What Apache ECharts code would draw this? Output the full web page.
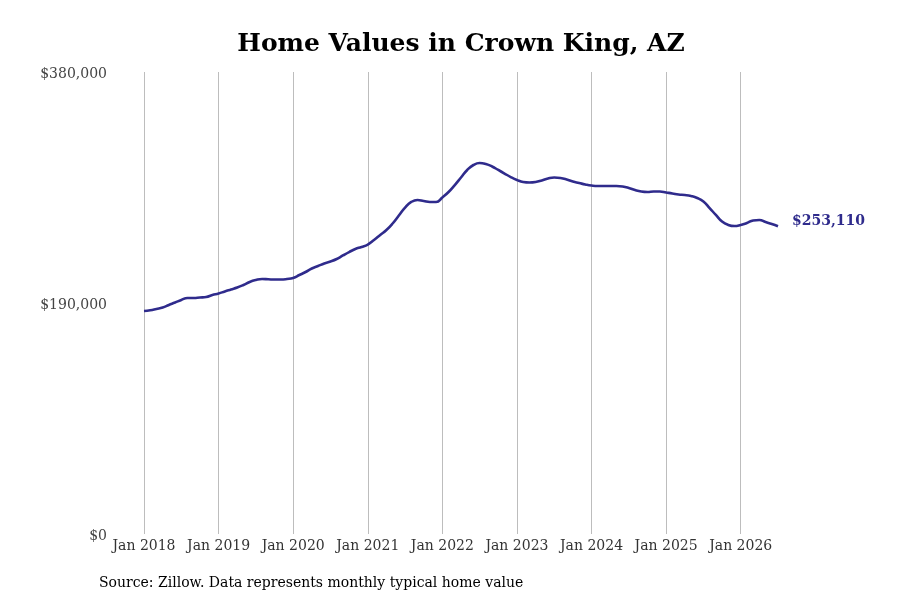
<!DOCTYPE html>
<html>
<head>
<meta charset="utf-8">
<script src="https://cdn.jsdelivr.net/npm/echarts@6/dist/echarts.min.js"></script>
<style>
  html, body { margin: 0; padding: 0; background: #fff; }
  #chart { width: 900px; height: 600px; }
</style>
</head>
<body>
<div id="chart"></div>
<script>
// Monthly typical home value, Jan 2018 onward
var startYear = 2018;
var homeValues = [
  183400, 184000, 185100, 186300, 188400, 190400, 192500, 194100, 194100, 194500, 194900, 196600,
  197800, 199500, 201100, 202700, 204800, 207300, 208900, 209700, 209500, 209300, 209300, 209700,
  210600, 213000, 215500, 218400, 220400, 222500, 224100, 226200, 229100, 231900, 234400, 236100,
  238100, 241800, 245900, 250000, 255400, 262000, 268500, 273100, 274700, 273900, 273100, 273100,
  276800, 281300, 287000, 293200, 299400, 303500, 305100, 304300, 302300, 299400, 296500, 293600,
  291200, 289500, 289100, 289500, 290800, 292400, 293200, 292800, 291600, 289900, 288700, 287500,
  286600, 286200, 286200, 286200, 286200, 285800, 284600, 282900, 281700, 281300, 281700, 281700,
  280900, 280100, 279200, 278800, 278000, 276400, 273500, 268100, 262400, 257000, 254200, 253300,
  254200, 255800, 257900, 258300, 256600, 255000, 253110
];
var monthNames = ['Jan', 'Feb', 'Mar', 'Apr', 'May', 'Jun', 'Jul', 'Aug', 'Sep', 'Oct', 'Nov', 'Dec'];
var yTicks = [0, 190000, 380000];

var months = homeValues.map(function (v, i) {
  return monthNames[i % 12] + ' ' + (startYear + Math.floor(i / 12));
});

function money(v) {
  return '$' + Math.round(v).toLocaleString('en-US');
}

var lineColor = '#2f2b8c';
var serif = 'DejaVu Serif';

var myChart = echarts.init(document.getElementById('chart'));

var option = {
  backgroundColor: '#fff',
  animation: false,
  title: {
    text: 'Home Values in Crown King, AZ',
    left: 456,
    textAlign: 'center',
    top: 27,
    textStyle: { fontFamily: serif, fontSize: 25, fontWeight: 'bold', color: '#000' }
  },
  grid: { left: 144, right: 122, top: 72, bottom: 66 },
  xAxis: {
    type: 'category',
    data: months,
    boundaryGap: false,
    axisLine: { show: false },
    axisTick: { show: false },
    axisLabel: {
      interval: 11,
      margin: 5,
      fontFamily: serif,
      fontSize: 14,
      color: '#333'
    },
    splitLine: {
      show: true,
      interval: 11,
      lineStyle: { color: '#bdbdbd', width: 1 }
    }
  },
  yAxis: {
    type: 'value',
    min: yTicks[0],
    max: yTicks[2],
    interval: yTicks[1],
    axisLine: { show: false },
    axisTick: { show: false },
    splitLine: { show: false },
    axisLabel: {
      margin: 37,
      verticalAlign: 'top',
      lineHeight: 5,
      fontFamily: serif,
      fontSize: 14,
      color: '#444',
      formatter: money
    }
  },
  series: [
    {
      name: 'Home value',
      type: 'line',
      data: homeValues,
      smooth: true,
      showSymbol: false,
      lineStyle: { color: lineColor, width: 2.6 },
      itemStyle: { color: lineColor },
      endLabel: {
        show: true,
        distance: 14,
        offset: [0, -5],
        fontFamily: serif,
        fontSize: 14,
        fontWeight: 'bold',
        color: lineColor,
        formatter: function (p) { return money(p.value); }
      }
    }
  ],
  graphic: [
    {
      type: 'text',
      left: 99,
      top: 576,
      style: {
        text: 'Source: Zillow. Data represents monthly typical home value',
        fontFamily: serif,
        fontSize: 14,
        fill: '#000'
      }
    }
  ]
};

myChart.setOption(option);
</script>
</body>
</html>
